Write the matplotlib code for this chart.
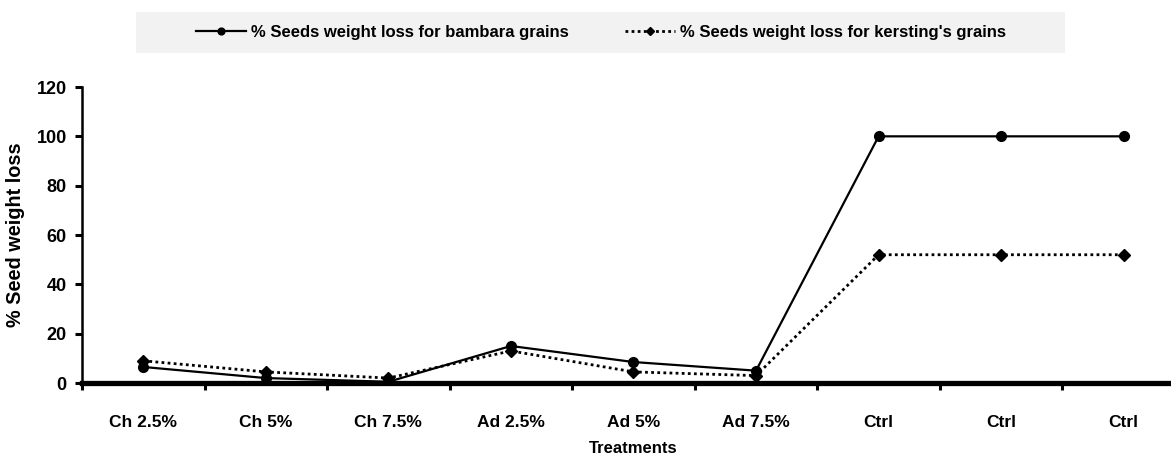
import matplotlib
matplotlib.use("Agg")
import matplotlib.pyplot as plt
from matplotlib.patches import Rectangle
import numpy as np

categories = ["Ch 2.5%", "Ch 5%", "Ch 7.5%", "Ad 2.5%", "Ad 5%", "Ad 7.5%", "Ctrl", "Ctrl", "Ctrl"]
bambara = [6.5, 2, 0.5, 15, 8.5, 5, 100, 100, 100]
kersting = [9, 4.5, 2, 13, 4.5, 3, 52, 52, 52]
label_bambara = "% Seeds weight loss for bambara grains"
label_kersting = "% Seeds weight loss for kersting's grains"
yticks = [0, 20, 40, 60, 80, 100, 120]

fam = ["Liberation Sans", "DejaVu Sans"]
plt.rcParams["font.family"] = fam

fig = plt.figure(figsize=(11.71, 4.54), dpi=100)
ax = fig.add_axes([82/1171, 71/454, 1103/1171, 296/454])

x = np.arange(len(categories))
ax.plot(x, bambara, color="black", lw=1.6, marker="o", ms=7, label=label_bambara)
ax.plot(x, kersting, color="black", lw=2, linestyle=(0, (1, 1.2)), marker="D", ms=6, label=label_kersting)

ax.set_xlim(-0.5, len(categories) - 0.5)
ax.set_ylim(0, 120)
ax.set_yticks(yticks)
ax.set_yticklabels([str(v) for v in yticks], fontsize=13, fontweight="bold")
ax.set_xticks(x)
ax.set_xticklabels(categories, fontsize=12.5, fontweight="bold")
ax.set_xticks(np.arange(len(categories)) - 0.5, minor=True)
ax.tick_params(axis="x", which="major", length=0, pad=23)
ax.tick_params(axis="x", which="minor", length=5, width=2.2, direction="out")
ax.tick_params(axis="y", which="major", length=5, width=2.2, direction="out", pad=6)

for s in ["top", "right"]:
    ax.spines[s].set_visible(False)
ax.spines["left"].set_linewidth(1.8)
ax.spines["bottom"].set_linewidth(3.8)

ax.set_xlabel("Treatments", fontsize=12, fontweight="bold", labelpad=8)
ax.set_ylabel("% Seed weight loss", fontsize=14.3, fontweight="bold")
ax.yaxis.set_label_coords(-57/1103, 0.5)

fig.patches.append(Rectangle((136/1171, 1 - 53/454), (1065-136)/1171, 41/454,
                             transform=fig.transFigure, facecolor="#f2f2f2", edgecolor="none", zorder=0))
leg = fig.legend(loc="center", bbox_to_anchor=(601/1171, 1 - 32/454), ncol=2, frameon=False,
                 prop={"family": fam, "weight": "bold", "size": 12},
                 handlelength=3.0, columnspacing=3.4, handletextpad=0.3, markerscale=0.7)

fig.savefig("out.png", dpi=100)
